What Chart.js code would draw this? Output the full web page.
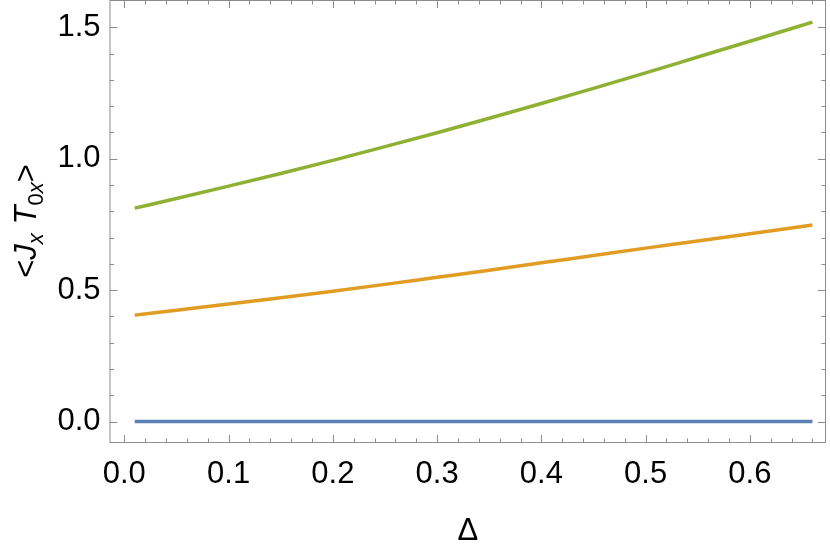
<!DOCTYPE html>
<html>
<head>
<meta charset="utf-8">
<script src="https://cdn.jsdelivr.net/npm/chart.js@4.4.0/dist/chart.umd.min.js"></script>
<style>
  html, body { margin: 0; padding: 0; background: #fff; }
</style>
</head>
<body>
<canvas id="chart" width="830" height="546"></canvas>
<script>
// ======= Data =======
const deltaValues  = [0.01, 0.05, 0.10, 0.15, 0.20, 0.25, 0.30, 0.35, 0.40, 0.45, 0.50, 0.55, 0.60, 0.66];
const blueValues   = [0, 0, 0, 0, 0, 0, 0, 0, 0, 0, 0, 0, 0, 0];
const orangeValues = [0.405, 0.424, 0.447, 0.471, 0.496, 0.522, 0.549, 0.576, 0.604, 0.632, 0.660, 0.687, 0.715, 0.748];
const greenValues  = [0.812, 0.849, 0.896, 0.944, 0.994, 1.046, 1.099, 1.154, 1.210, 1.268, 1.327, 1.387, 1.447, 1.520];

// tick values
const xMajorTicks = [0, 0.1, 0.2, 0.3, 0.4, 0.5, 0.6];
const xMinorTicks = [0.02, 0.04, 0.06, 0.08, 0.12, 0.14, 0.16, 0.18, 0.22, 0.24, 0.26, 0.28,
                     0.32, 0.34, 0.36, 0.38, 0.42, 0.44, 0.46, 0.48, 0.52, 0.54, 0.56, 0.58, 0.62, 0.64, 0.66];
const yMajorTicks = [0, 0.5, 1.0, 1.5];
const yMinorTicks = [0.1, 0.2, 0.3, 0.4, 0.6, 0.7, 0.8, 0.9, 1.1, 1.2, 1.3, 1.4];

const FONT = "'Liberation Sans', Arial, sans-serif";
const FRAME = "#8c8c8c";

const toPoints = ys => deltaValues.map((x, i) => ({ x: x, y: ys[i] }));

// ======= Frame + inward ticks (Mathematica style) =======
const framePlugin = {
  id: "frame",
  beforeDatasetsDraw(chart) {
    const { ctx, chartArea: a, scales } = chart;
    ctx.save();
    ctx.strokeStyle = FRAME;
    ctx.lineWidth = 1;
    ctx.strokeRect(a.left + 0.5, a.top + 0.5, a.right - a.left - 1, a.bottom - a.top - 1);

    const tickX = (v, len) => {
      const px = Math.round(scales.x.getPixelForValue(v)) + 0.5;
      ctx.beginPath();
      ctx.moveTo(px, a.bottom); ctx.lineTo(px, a.bottom - len);
      ctx.moveTo(px, a.top); ctx.lineTo(px, a.top + len);
      ctx.stroke();
    };
    const tickY = (v, len) => {
      const py = Math.round(scales.y.getPixelForValue(v)) + 0.5;
      ctx.beginPath();
      ctx.moveTo(a.left, py); ctx.lineTo(a.left + len, py);
      ctx.moveTo(a.right, py); ctx.lineTo(a.right - len, py);
      ctx.stroke();
    };
    xMajorTicks.forEach(v => tickX(v, 8));
    xMinorTicks.forEach(v => tickX(v, 4.5));
    yMajorTicks.forEach(v => tickY(v, 8));
    yMinorTicks.forEach(v => tickY(v, 4.5));
    ctx.restore();
  }
};

// ======= Y title with subscripts: <J_x T_0x> =======
const yTitlePlugin = {
  id: "ytitle",
  afterDraw(chart) {
    const ctx = chart.ctx;
    const parts = [
      { t: "<", f: "31px " + FONT, dy: 0 },
      { t: "J", f: "italic 31px " + FONT, dy: 0 },
      { t: "x", f: "italic 22px " + FONT, dy: 7 },
      { t: " ", f: "31px " + FONT, dy: 0 },
      { t: "T", f: "italic 31px " + FONT, dy: 0 },
      { t: "0", f: "22px " + FONT, dy: 7 },
      { t: "x", f: "italic 22px " + FONT, dy: 7 },
      { t: ">", f: "31px " + FONT, dy: 0 }
    ];
    ctx.save();
    let total = 0;
    parts.forEach(p => { ctx.font = p.f; p.w = ctx.measureText(p.t).width; total += p.w; });
    ctx.translate(36, 221);
    ctx.rotate(-Math.PI / 2);
    ctx.fillStyle = "#000";
    ctx.textBaseline = "alphabetic";
    let x = -total / 2;
    parts.forEach(p => {
      ctx.font = p.f;
      ctx.fillText(p.t, x, p.dy);
      x += p.w;
    });
    ctx.restore();
  }
};

// ======= Chart =======
const ctx = document.getElementById("chart").getContext("2d");
const chart = new Chart(ctx, {
  type: "line",
  data: {
    datasets: [
      { data: toPoints(blueValues),   borderColor: "#5E81B5", borderWidth: 3.5, pointRadius: 0, cubicInterpolationMode: "monotone" },
      { data: toPoints(orangeValues), borderColor: "#E19C24", borderWidth: 3.5, pointRadius: 0, cubicInterpolationMode: "monotone" },
      { data: toPoints(greenValues),  borderColor: "#8FB032", borderWidth: 3.5, pointRadius: 0, cubicInterpolationMode: "monotone" }
    ]
  },
  options: {
    responsive: false,
    animation: false,
    layout: { padding: { top: 0, right: 4, bottom: 0, left: 0 } },
    plugins: { legend: { display: false }, tooltip: { enabled: false } },
    scales: {
      x: {
        type: "linear",
        min: -0.0142,
        max: 0.673,
        grid: { display: false, drawTicks: false },
        border: { display: false },
        afterBuildTicks: s => { s.ticks = xMajorTicks.map(v => ({ value: v })); },
        afterFit: s => { s.height = 103; s.paddingLeft = 0; s.paddingRight = 0; },
        ticks: {
          color: "#000",
          font: { family: FONT, size: 31 },
          padding: 13,
          maxRotation: 0,
          callback: v => v.toFixed(1)
        },
        title: {
          display: true,
          text: "Δ",
          color: "#000",
          font: { family: FONT, size: 31 },
          padding: { top: 0, bottom: -4 }
        }
      },
      y: {
        min: -0.0815,
        max: 1.604,
        grid: { display: false, drawTicks: false },
        border: { display: false },
        afterBuildTicks: s => { s.ticks = yMajorTicks.map(v => ({ value: v })); },
        afterFit: s => { s.width = 109.5; s.paddingTop = 0; s.paddingBottom = 0; },
        ticks: {
          color: "#000",
          font: { family: FONT, size: 31 },
          padding: 9,
          callback: v => v.toFixed(1)
        }
      }
    }
  },
  plugins: [framePlugin, yTitlePlugin]
});
</script>
</body>
</html>
